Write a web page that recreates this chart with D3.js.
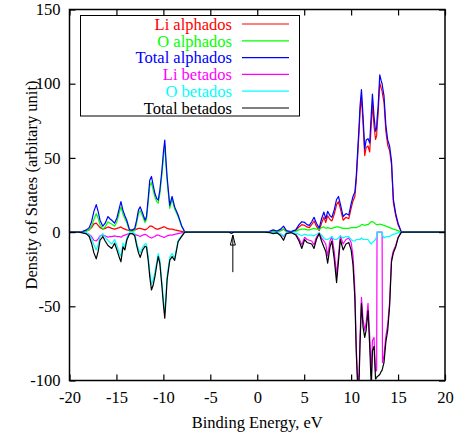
<!DOCTYPE html>
<html><head><meta charset="utf-8">
<script src="https://cdn.jsdelivr.net/npm/d3@7"></script>
<style>
html,body{margin:0;padding:0;background:#fff;}
</style></head>
<body><svg id="chart" width="455" height="435"></svg>
<script>
const energy = [-20,-19,-18.6,-18.2,-17.9,-17.65,-17.4,-17.15,-16.95,-16.75,-16.45,-16.2,-15.9,-15.7,-15.5,-15.2,-14.95,-14.7,-14.52,-14.3,-14.1,-13.9,-13.6,-13.3,-13.05,-12.85,-12.65,-12.47,-12.2,-11.95,-11.8,-11.6,-11.45,-11.27,-11.1,-10.9,-10.7,-10.55,-10.38,-10.15,-9.98,-9.85,-9.72,-9.6,-9.32,-9.07,-8.8,-8.43,-8.07,-7.72,-3.0,-2.75,-2.5,0.8,1.3,1.7,2.1,2.5,2.8,3.1,3.6,4.1,4.45,4.75,5.05,5.3,5.55,5.8,6.05,6.3,6.6,6.85,7.1,7.3,7.5,7.75,7.95,8.2,8.45,8.65,8.85,9.15,9.45,9.75,10.0,10.2,10.4,10.55,10.7,10.85,10.95,11.1,11.27,11.45,11.6,11.8,11.98,12.15,12.27,12.44,12.6,12.72,12.76,12.87,13.05,13.2,13.3,13.34,13.5,13.7,13.9,14.1,14.3,14.5,14.75,15.0,15.35,20];
const totalAlpha = [0,0,0.5,1.5,3,7,14,18.5,14,8,4,6,10.5,9,8,6,9.5,16,20.5,14.5,11,8,1.5,1.5,2.5,8,15,17,12.5,8,10.5,24,35,37.5,32,26,22.5,21.5,28,42,55,62,48,37,18,24,17,11.5,4.5,0,0,0.4,0,0,0.5,1.5,0.7,2,4,1,0.3,1.5,5,7,6.5,5,4.5,7,10,6,2.7,9,13.5,9,14,11,10,15,22,24,19,10.5,12.5,11.5,19,24,27,38,55,72,85,96,78,56,62,63,60,80,93,78,68,70,76,84,106,102,100,98,92,72,62,58,48,22,12.5,6,0,0];
const liAlpha = [0,0,0.3,0.8,1.5,3,5.5,6,4.5,3,2,2.5,3.5,3,2.5,2,2.5,3,3.5,2.5,2,1.5,1,1,1.5,2,2.5,2.5,2,1.5,2,3,4,4,3.5,2.5,2,2,2.5,3,3.5,3.5,3,2.5,2,2,1.5,1,0.5,0,0,0.2,0,0,0.3,0.8,0.4,1,2,0.5,0.2,1,3.5,5,4.5,3.5,3,5,7.5,4,1,6,10,6.5,11,8.5,7.5,12,18.5,20.5,16,8,10,9,16,21,24,35,51.5,68,81,91,73,51.5,57,58,54,73,86,71.5,62.5,65,71,79,100.5,97,95,93,87.5,68,58.5,55,45.5,20,11,5,0,0];
const oAlpha = [0,0,0.2,0.7,1.5,4,8.5,12.5,9.5,5,2,3.5,7,6,5.5,4,7,13,17,12,9,6.5,0.5,0.5,1,6,12.5,14.5,10.5,6.5,8.5,21,31,33.5,28.5,23.5,20.5,19.5,25.5,39,51.5,58.5,45,34.5,16,22,15.5,10.5,4,0,0,0.2,0,0,0.2,0.7,0.3,1,2,0.5,0.1,0.5,1.5,2,2,1.5,1.5,2,2.5,2,1.7,3,3.5,2.5,3,2.5,2.5,3,3.5,3.5,3,2.5,2.5,2.5,3,3,3,3,3.5,4,4,5,5,4.5,5,5,6,7,7,6.5,5.5,5,5,5,5.5,5,5,5,4.5,4,3.5,3,2.5,2,1.5,1,0,0];
const totalBeta = [0,0,-0.5,-1.2,-3,-7.5,-14,-18,-13,-5.5,-3,-6,-9,-10,-11,-7.5,-12,-17,-20,-10,-12,-5.5,-1,-1,-2.5,-9,-14,-17,-12,-9.5,-10,-20,-30,-39,-36,-30,-22,-16.5,-21,-37,-50,-58,-45,-32,-19,-16.5,-19,-6.5,-3,0,0,-0.8,0,0,-0.3,-1,-0.5,-2.5,-5.5,-1,-0.3,-2,-6,-11,-5,-7,-7.5,-8,-11,-5,-1,-6,-10,-13,-21,-10,-6,-18,-34,-20,-5,-12,-8,-7,-12,-22,-45,-82,-104,-100,-75,-48,-64,-71,-66,-53,-77,-105,-80,-77,-99,-98,-97.5,-97,-96,-94,-93,-92,-88,-74,-66,-50,-20,-14,-10,-4,0,0];
const liBeta = [0,0,-0.3,-0.6,-1.5,-3,-5.5,-6,-4.5,-2.5,-2,-2.5,-3.5,-3,-3,-2.5,-3,-3,-3.5,-2.5,-2,-1.5,-1,-1,-1.5,-2,-2.5,-3,-2,-1.5,-2,-3,-3.5,-4,-3.5,-3,-2,-2,-2.5,-3,-3.5,-3.5,-3,-2.5,-2,-2,-1.5,-1,-0.5,0,0,-0.7,0,0,-0.2,-0.5,-0.3,-1.3,-3,-0.5,-0.2,-1.3,-4.5,-8.5,-3.5,-5,-5.5,-6,-8.5,-3.5,-0.5,-4,-6,-8,-16,-6,-3,-13,-29,-16,-2.5,-8,-5,-4,-7,-16,-39,-77,-102,-95,-70,-44,-59,-66,-61,-48,-70,-97,-73,-71,-94,-93,0,0,0,0,0,-88,-83,-70,-62,-47,-18,-12.5,-9,-3.5,0,0];
const oBeta = [0,0,-0.2,-0.6,-1.5,-4.5,-8.5,-12,-8.5,-3,-1,-3.5,-5.5,-7,-8,-5,-9,-14,-16.5,-7.5,-10,-4,0,0,-1,-7,-11.5,-14,-10,-8,-8,-17,-26.5,-35,-32.5,-27,-20,-14.5,-18.5,-34,-46.5,-54.5,-42,-29.5,-17,-14.5,-17.5,-5.5,-2.5,0,0,-0.1,0,0,-0.1,-0.5,-0.2,-1.2,-2.5,-0.5,-0.1,-0.7,-1.5,-2.5,-1.5,-2,-2,-2,-2.5,-1.5,-0.5,-2,-4,-5,-5,-4,-3,-5,-5,-4,-2.5,-4,-3,-3,-5,-6,-6,-5,-5,-5,-5,-4,-5,-5,-5,-5,-7,-8,-7,-6,-5,-3,0,0,0,0,0,-2,-4,-3,-3,-3,-2,-1.5,-1,-0.5,0,0];

const seriesNames = ["Li alphados","O alphados","Total alphados","Li betados","O betados","Total betados"];
const seriesColors = ["#ff0000","#00ff00","#0000ff","#ff00ff","#00ffff","#000000"];
const seriesValues = [liAlpha,oAlpha,totalAlpha,liBeta,oBeta,totalBeta];
const xTicks = [-20,-15,-10,-5,0,5,10,15,20];
const yTicks = [-100,-50,0,50,100,150];
const arrowX = -2.6, arrowFrom = -27, arrowTo = -2;

const FONT = "'Liberation Serif', 'Times New Roman', Times, 'DejaVu Serif', serif";
const svg = d3.select("#chart");
const L=69.5,R=445,T=9.5,B=380.5;
const x = d3.scaleLinear().domain([-20,20]).range([L,R]);
const y = d3.scaleLinear().domain([-100,150]).range([B,T]);
const fs = "16.5px";

svg.append("defs").append("clipPath").attr("id","clip")
  .append("rect").attr("x",L).attr("y",T).attr("width",R-L).attr("height",B-T);

const line = d3.line().x(d=>x(d[0])).y(d=>y(d[1]));
const plot = svg.append("g").attr("clip-path","url(#clip)");
seriesValues.forEach((vals,i)=>{
  plot.append("path")
    .datum(energy.map((e,j)=>[e,vals[j]]))
    .attr("d",line).attr("fill","none")
    .attr("stroke",seriesColors[i]).attr("stroke-width",1.2)
    .attr("stroke-linejoin","round");
});

// arrow
const ax = x(arrowX), ay0 = y(arrowFrom), ay1 = y(arrowTo);
svg.append("line").attr("x1",ax).attr("x2",ax).attr("y1",ay0).attr("y2",ay1)
  .attr("stroke","#000").attr("stroke-width",1);
svg.append("path").attr("d",`M${ax-2.5},${ay1+10}L${ax},${ay1}L${ax+2.5},${ay1+10}Z`)
  .attr("fill","none").attr("stroke","#000").attr("stroke-width",1);

// axes
const fmt = d=>String(d);
const gx = svg.append("g").attr("transform",`translate(0,${B})`)
  .call(d3.axisBottom(x).tickValues(xTicks).tickSize(-6).tickPadding(0).tickFormat(fmt));
gx.selectAll("text").attr("y",22).attr("dy",null);
svg.append("g").attr("transform",`translate(0,${T})`)
  .call(d3.axisTop(x).tickValues(xTicks).tickSize(-6).tickFormat(""));
const gy = svg.append("g").attr("transform",`translate(${L},0)`)
  .call(d3.axisLeft(y).tickValues(yTicks).tickSize(-6).tickPadding(0).tickFormat(fmt));
gy.selectAll("text").attr("x",-9).attr("dy","0.32em");
svg.append("g").attr("transform",`translate(${R},0)`)
  .call(d3.axisRight(y).tickValues(yTicks).tickSize(-6).tickFormat(""));
svg.selectAll(".domain").remove();
svg.selectAll(".tick line").attr("stroke","#000").attr("stroke-width",1.2);
svg.append("rect").attr("x",L).attr("y",T).attr("width",R-L).attr("height",B-T)
  .attr("fill","none").attr("stroke","#000").attr("stroke-width",1.5);

svg.append("text").attr("x",(L+R)/2).attr("y",428).attr("text-anchor","middle")
  .text("Binding Energy, eV");
svg.append("text").attr("transform","translate(37,185) rotate(-90)").attr("text-anchor","middle")
  .text("Density of States (arbitary unit)");

// legend
const lg = svg.append("g");
lg.append("rect").attr("x",80.5).attr("y",15.5).attr("width",219).attr("height",100.5)
  .attr("fill","#fff").attr("stroke","#000").attr("stroke-width",1);
seriesNames.forEach((n,i)=>{
  const cy = 24 + i*16.8;
  lg.append("text").attr("x",232).attr("y",cy).attr("dy","0.35em").attr("text-anchor","end")
    .attr("fill",seriesColors[i]).text(n);
  lg.append("line").attr("x1",242).attr("x2",289).attr("y1",cy).attr("y2",cy)
    .attr("stroke",seriesColors[i]).attr("stroke-width",1.2);
});

svg.selectAll("text")
  .attr("font-family",null).attr("font-size",null)
  .style("font-family",FONT).style("font-size",fs);
svg.selectAll("g").attr("font-family",null).attr("font-size",null);
svg.selectAll(".tick text").attr("fill","#000");
</script></body></html>
